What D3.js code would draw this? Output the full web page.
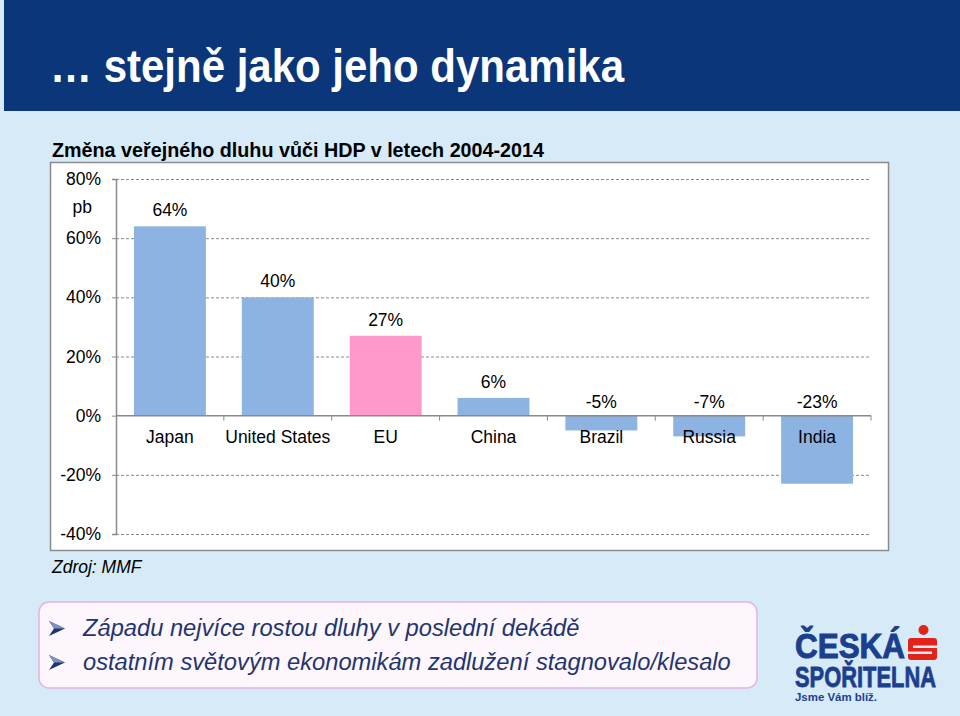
<!DOCTYPE html>
<html><head><meta charset="utf-8">
<script src="https://cdn.jsdelivr.net/npm/d3@7"></script>
<style>html,body{margin:0;padding:0;background:#d6eaf7;}svg{display:block;}</style>
</head><body>
<svg id="c" width="960" height="716"></svg>
<script>
const categories = ["Japan","United States","EU","China","Brazil","Russia","India"];
const values = [64, 40, 27, 6, -5, -7, -23];
const highlight = ["EU"];
const yTicks = [80, 60, 40, 20, 0, -20, -40];
const title = "… stejně jako jeho dynamika";
const subtitle = "Změna veřejného dluhu vůči HDP v letech 2004-2014";
const unitLabel = "pb";
const source = "Zdroj: MMF";
const bullets = ["Západu nejvíce rostou dluhy v poslední dekádě",
                 "ostatním světovým ekonomikám zadlužení stagnovalo/klesalo"];

const svg = d3.select("#c");
const F = "'Liberation Sans', Arial, sans-serif";
const FS = 17.5;

// background
svg.append("rect").attr("x",0).attr("y",0).attr("width",960).attr("height",716).attr("fill","#d6eaf7");
svg.append("rect").attr("x",4).attr("y",0).attr("width",956).attr("height",111).attr("fill","#0b3679");
svg.append("text").attr("x",50).attr("y",82).attr("fill","#fff")
  .attr("font-family",F)
  .attr("font-weight","bold").attr("font-size",47)
  .attr("textLength",574).attr("lengthAdjust","spacingAndGlyphs").text(title);

svg.append("text").attr("x",52).attr("y",157).attr("fill","#000")
  .attr("font-family",F).attr("font-weight","bold").attr("font-size",20.5)
  .attr("textLength",492).attr("lengthAdjust","spacingAndGlyphs").text(subtitle);

// chart box
svg.append("rect").attr("x",50.5).attr("y",162.5).attr("width",838).attr("height",388)
  .attr("fill","#fff").attr("stroke","#8c8c8c").attr("stroke-width",1.5);

const x0 = 116, x1 = 871;
const x = d3.scaleBand().domain(categories).range([x0, x1]).paddingInner(0.333).paddingOuter(0.1665);
const y = d3.scaleLinear().domain([-40, 80]).range([534, 179]);

const g = svg.append("g");
// gridlines
g.selectAll(".grid").data(yTicks.filter(d=>d!==0)).join("line")
  .attr("x1",x0).attr("x2",x1).attr("y1",d=>y(d)+0.5).attr("y2",d=>y(d)+0.5)
  .attr("stroke","#8a8a8a").attr("stroke-width",1).attr("stroke-dasharray","3,2");

// bars
g.selectAll(".bar").data(categories).join("rect")
  .attr("x",d=>x(d)).attr("width",x.bandwidth())
  .attr("y",(d,i)=>y(Math.max(0,values[i])))
  .attr("height",(d,i)=>Math.abs(y(values[i])-y(0)))
  .attr("fill",d=>highlight.includes(d)?"#ff99cc":"#8db3e2");

// y axis
const yAxis = d3.axisLeft(y).tickValues(yTicks).tickFormat(d=>d+"%").tickSize(4).tickPadding(11);
const ya = svg.append("g").attr("transform",`translate(${x0},0)`).call(yAxis);
ya.select(".domain").attr("stroke","#8a8a8a").attr("stroke-width",1.5);
ya.selectAll(".tick line").attr("stroke","#8a8a8a");
ya.selectAll(".tick text").attr("font-family",F).attr("font-size",FS).attr("fill","#000");

// x axis at zero
const xBoundary = d3.scaleLinear().domain([0, categories.length]).range([x0, x1]);
const xa = svg.append("g");
xa.append("line").attr("x1",x0).attr("x2",x1).attr("y1",y(0)).attr("y2",y(0)).attr("stroke","#8a8a8a").attr("stroke-width",1.5);
xa.selectAll(".xt").data(d3.range(1, categories.length+1)).join("line")
  .attr("x1",d=>xBoundary(d)).attr("x2",d=>xBoundary(d)).attr("y1",y(0)).attr("y2",y(0)+5)
  .attr("stroke","#8a8a8a").attr("stroke-width",1);
xa.selectAll(".xl").data(categories).join("text")
  .attr("x",d=>x(d)+x.bandwidth()/2).attr("y",y(0)+27).attr("text-anchor","middle")
  .attr("font-family",F).attr("font-size",FS).attr("fill","#000").text(d=>d);

// value labels
g.selectAll(".vl").data(categories).join("text")
  .attr("x",d=>x(d)+x.bandwidth()/2)
  .attr("y",(d,i)=> values[i]>=0 ? y(values[i])-10 : y(0)-8)
  .attr("text-anchor","middle").attr("font-family",F).attr("font-size",FS).attr("fill","#000")
  .text((d,i)=>values[i]+"%");

// pb label
svg.append("text").attr("x",92).attr("y",213).attr("text-anchor","end")
  .attr("font-family",F).attr("font-size",FS).attr("fill","#000").text(unitLabel);

// source
svg.append("text").attr("x",52).attr("y",573).attr("font-family",F).attr("font-style","italic")
  .attr("font-size",FS).attr("fill","#000").text(source);

// bullets box
svg.append("rect").attr("x",39).attr("y",602).attr("width",718).attr("height",86).attr("rx",10)
  .attr("fill","#fdf6fc").attr("stroke","#e6b3e0").attr("stroke-width",1.5);
bullets.forEach((b,i)=>{
  const by = 636 + i*34;
  const bx = 49, bt = by - 15;
  svg.append("path").attr("fill","#1f3570")
    .attr("d",`M${bx},${bt} L${bx+16},${bt+7.5} L${bx},${bt+15} L${bx+5},${bt+7.5} Z`);
  svg.append("path").attr("fill","#7f93bd")
    .attr("d",`M${bx},${bt} L${bx+16},${bt+7.5} L${bx+5},${bt+7.5} Z`);
  svg.append("text").attr("x",83).attr("y",by).attr("font-family",F).attr("font-style","italic")
    .attr("font-size",23.7).attr("fill","#1f3570").text(b);
});

// logo
const logo = svg.append("g");
logo.append("text").attr("x",795).attr("y",658).attr("font-family",F).attr("font-weight","bold")
  .attr("font-size",35).attr("fill","#1b3f8e").attr("stroke","#1b3f8e").attr("stroke-width",1)
  .attr("textLength",110).attr("lengthAdjust","spacingAndGlyphs").text("ČESKÁ");
logo.append("text").attr("x",795).attr("y",687).attr("font-family",F).attr("font-weight","bold")
  .attr("font-size",29).attr("fill","#1b3f8e").attr("stroke","#1b3f8e").attr("stroke-width",0.8)
  .attr("textLength",141).attr("lengthAdjust","spacingAndGlyphs").text("SPOŘITELNA");
logo.append("text").attr("x",795).attr("y",701).attr("font-family",F).attr("font-weight","bold")
  .attr("font-size",11.5).attr("fill","#1b3f8e").attr("textLength",82).attr("lengthAdjust","spacingAndGlyphs").text("Jsme Vám blíž.");
// red S icon
logo.append("circle").attr("cx",923.5).attr("cy",630).attr("r",5).attr("fill","#e2231a");
logo.append("rect").attr("x",908).attr("y",638).attr("width",29).attr("height",22).attr("rx",3).attr("fill","#e2231a");
logo.append("rect").attr("x",913).attr("y",645.5).attr("width",24).attr("height",2.5).attr("fill","#d6eaf7");
logo.append("rect").attr("x",908).attr("y",651.5).attr("width",24).attr("height",2.5).attr("fill","#d6eaf7");
</script>
</body></html>
